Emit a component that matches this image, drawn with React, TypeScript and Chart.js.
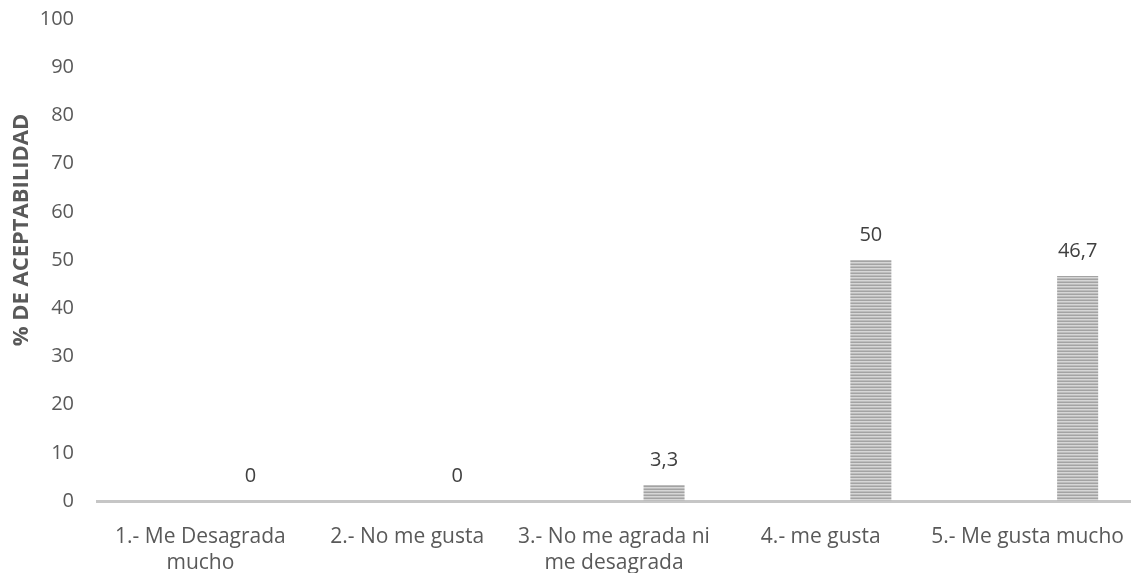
import React, { useEffect, useRef } from "react";
import { Chart, registerables } from "chart.js";

Chart.register(...registerables);

// Response categories (multi-line where the label wraps)
const categories: (string | string[])[] = [
  ["1.- Me Desagrada", "mucho"],
  "2.- No me gusta",
  ["3.- No me agrada ni", "me desagrada"],
  "4.- me gusta",
  "5.- Me gusta mucho",
];

// Percentage of acceptability per category
const acceptability: number[] = [0, 0, 3.3, 50, 46.7];

// Empty companion series that keeps the bars offset inside each category
const emptySeries: (number | null)[] = [null, null, null, null, null];

const yTicks: number[] = [0, 10, 20, 30, 40, 50, 60, 70, 80, 90, 100];
const yTitle = "% DE ACEPTABILIDAD";

const FONT = "'Open Sans', 'DejaVu Sans', sans-serif";
const TEXT = "#595959";

function stripePattern(): CanvasPattern | string {
  const c = document.createElement("canvas");
  c.width = 4;
  c.height = 3;
  const g = c.getContext("2d");
  if (!g) return "#b8b8b8";
  g.fillStyle = "#a3a3a3";
  g.fillRect(0, 0, 4, 1);
  g.fillStyle = "#d6d6d6";
  g.fillRect(0, 1, 4, 1);
  g.fillStyle = "#bdbdbd";
  g.fillRect(0, 2, 4, 1);
  const p = g.createPattern(c, "repeat");
  return p || "#b8b8b8";
}

const fmt = (v: number) => String(v).replace(".", ",");

const valueLabels = {
  id: "valueLabels",
  afterDatasetsDraw(chart: any) {
    const ctx = chart.ctx;
    const meta = chart.getDatasetMeta(1);
    const data = chart.data.datasets[1].data as number[];
    ctx.save();
    ctx.font = `20px ${FONT}`;
    ctx.fillStyle = "#404040";
    ctx.textAlign = "center";
    ctx.textBaseline = "middle";
    meta.data.forEach((bar: any, i: number) => {
      ctx.fillText(fmt(data[i]), bar.x, bar.y - 25);
    });
    ctx.restore();
  },
};

const axisTitle = {
  id: "axisTitle",
  afterDraw(chart: any) {
    const ctx = chart.ctx;
    ctx.save();
    ctx.translate(22, 230);
    ctx.rotate(-Math.PI / 2);
    ctx.font = `bold 22px ${FONT}`;
    ctx.fillStyle = TEXT;
    ctx.textAlign = "center";
    ctx.textBaseline = "middle";
    ctx.fillText(yTitle, 0, 0);
    ctx.restore();
  },
};

// Keep the plot area edges fixed regardless of label overhang
const noScalePadding = (scale: any) => {
  scale.paddingLeft = 0;
  scale.paddingRight = 0;
  scale.paddingTop = 0;
  scale.paddingBottom = 0;
};

export default function App() {
  const ref = useRef<HTMLCanvasElement>(null);

  useEffect(() => {
    document.body.style.margin = "0";
    const canvas = ref.current;
    if (!canvas) return;
    const fill = stripePattern();
    const chart = new Chart(canvas, {
      type: "bar",
      data: {
        labels: categories,
        datasets: [
          {
            data: emptySeries,
            backgroundColor: fill,
          },
          {
            data: acceptability,
            backgroundColor: fill,
            borderWidth: 0,
          },
        ],
      },
      options: {
        animation: false,
        responsive: false,
        maintainAspectRatio: false,
        datasets: {
          bar: { categoryPercentage: 0.968, barPercentage: 0.41 },
        },
        layout: { padding: { top: 19, right: 0, left: 0, bottom: 0 } },
        plugins: {
          legend: { display: false },
          tooltip: { enabled: false },
          title: { display: false },
        },
        scales: {
          x: {
            grid: { display: false, drawTicks: false },
            border: { display: true, color: "#c6c6c6", width: 3 },
            ticks: {
              color: TEXT,
              font: { family: FONT, size: 21, lineHeight: 1.25 },
              padding: 23,
              maxRotation: 0,
              autoSkip: false,
            },
            afterFit(scale: any) {
              scale.height = 72;
              noScalePadding(scale);
            },
          },
          y: {
            min: 0,
            max: 100,
            afterBuildTicks(scale: any) {
              scale.ticks = yTicks.map((v) => ({ value: v }));
            },
            grid: { display: false, drawTicks: false },
            border: { display: false },
            ticks: {
              color: TEXT,
              font: { family: FONT, size: 20 },
              padding: 23,
            },
            afterFit(scale: any) {
              scale.width = 97;
              noScalePadding(scale);
            },
          },
        },
      },
      plugins: [valueLabels, axisTitle],
    });
    return () => chart.destroy();
  }, []);

  return (
    <div style={{ position: "relative", width: 1131, height: 573, background: "#fff" }}>
      <canvas ref={ref} width={1131} height={573} style={{ display: "block" }} />
    </div>
  );
}
